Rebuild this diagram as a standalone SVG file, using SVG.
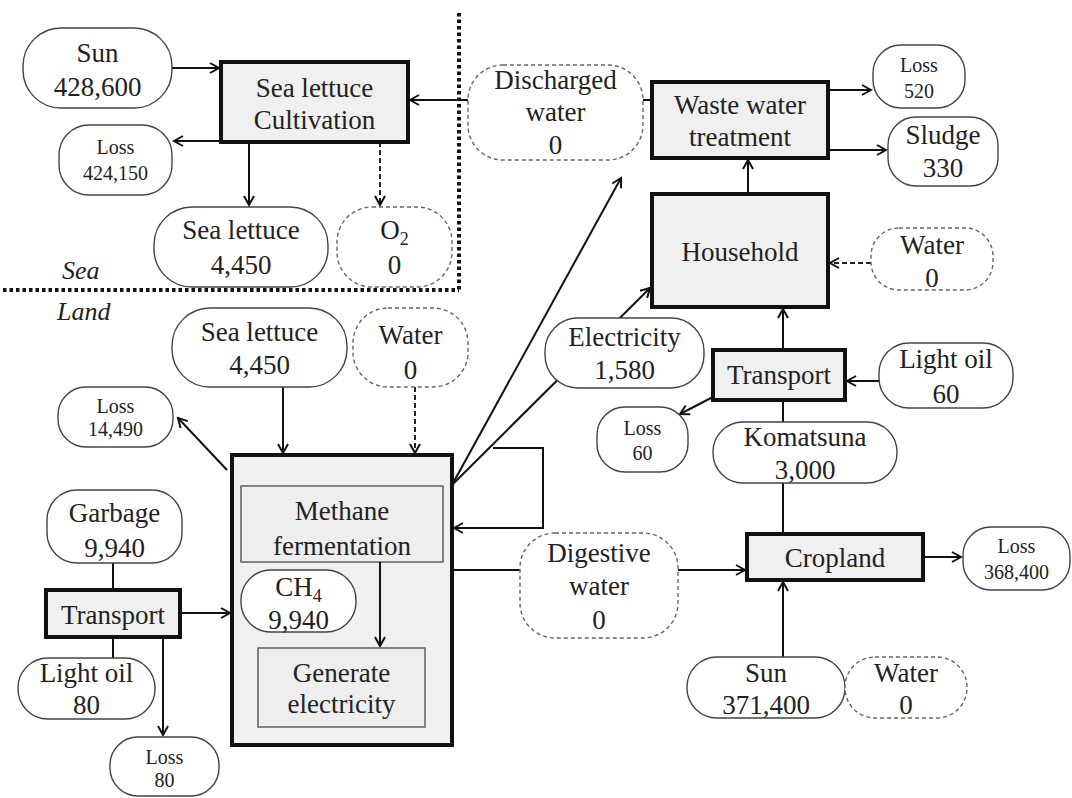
<svg xmlns="http://www.w3.org/2000/svg" width="1072" height="798" viewBox="0 0 1072 798">
<defs>
<marker id="ah" markerWidth="12" markerHeight="12" refX="10" refY="6" orient="auto" markerUnits="userSpaceOnUse">
<path d="M1,1 L10,6 L1,11" fill="none" stroke="#111" stroke-width="2"/>
</marker>
</defs>
<style>
.n{fill:#fff;stroke:#444;stroke-width:1.4}
.d{fill:#fff;stroke:#666;stroke-width:1.4;stroke-dasharray:4 3}
.p{fill:#f0f0f0;stroke:#111;stroke-width:4}
.i{fill:#eeeeee;stroke:#555;stroke-width:1.4}
.t{font-family:"Liberation Serif","Times New Roman",serif;font-size:27px;fill:#222;text-anchor:middle}
.s{font-family:"Liberation Serif","Times New Roman",serif;font-size:20px;fill:#222;text-anchor:middle}
.c{fill:none;stroke:#111;stroke-width:2}
.cd{fill:none;stroke:#222;stroke-width:2;stroke-dasharray:5 3}
.div{fill:none;stroke:#111;stroke-width:4;stroke-dasharray:3.5 3}
.lab{font-family:"Liberation Serif","Times New Roman",serif;font-size:26px;font-style:italic;fill:#222}
</style>
<rect width="1072" height="798" fill="#fff"/>
<g id="dividers">
<line class="div" x1="459" y1="13" x2="459" y2="290"/>
<line class="div" x1="3" y1="290" x2="459" y2="290"/>
<text class="lab" x="62" y="279">Sea</text>
<text class="lab" x="57" y="320">Land</text>
</g>
<g id="connectors">
<line class="c" x1="172" y1="68" x2="219" y2="68" marker-end="url(#ah)"/>
<line class="c" x1="221" y1="141" x2="174" y2="141" marker-end="url(#ah)"/>
<line class="c" x1="249" y1="142" x2="249" y2="205" marker-end="url(#ah)"/>
<line class="cd" x1="380" y1="142" x2="380" y2="205" marker-end="url(#ah)"/>
<line class="c" x1="652" y1="100" x2="643" y2="100"/>
<line class="c" x1="468" y1="100" x2="410" y2="100" marker-end="url(#ah)"/>
<line class="c" x1="828" y1="90" x2="871" y2="90" marker-end="url(#ah)"/>
<line class="c" x1="828" y1="150" x2="886" y2="150" marker-end="url(#ah)"/>
<line class="c" x1="748" y1="194" x2="748" y2="160" marker-end="url(#ah)"/>
<line class="cd" x1="871" y1="263" x2="830" y2="263" marker-end="url(#ah)"/>
<line class="c" x1="452" y1="485" x2="621" y2="178" marker-end="url(#ah)"/>
<line class="c" x1="452" y1="485" x2="650" y2="288" marker-end="url(#ah)"/>
<polyline class="c" points="493,448 543,448 543,528 454,528" marker-end="url(#ah)"/>
<line class="c" x1="783" y1="350" x2="783" y2="309" marker-end="url(#ah)"/>
<line class="c" x1="879" y1="381" x2="847" y2="381" marker-end="url(#ah)"/>
<line class="c" x1="713" y1="397" x2="680" y2="414" marker-end="url(#ah)"/>
<line class="c" x1="783" y1="400" x2="783" y2="422"/>
<line class="c" x1="783" y1="483" x2="783" y2="534"/>
<line class="c" x1="923" y1="557" x2="961" y2="557" marker-end="url(#ah)"/>
<line class="c" x1="452" y1="570" x2="520" y2="570"/>
<line class="c" x1="678" y1="570" x2="745" y2="570" marker-end="url(#ah)"/>
<line class="c" x1="783" y1="657" x2="783" y2="582" marker-end="url(#ah)"/>
<line class="c" x1="283" y1="387" x2="283" y2="453" marker-end="url(#ah)"/>
<line class="cd" x1="415" y1="387" x2="415" y2="453" marker-end="url(#ah)"/>
<line class="c" x1="227" y1="470" x2="178" y2="418" marker-end="url(#ah)"/>
<line class="c" x1="113" y1="563" x2="113" y2="590"/>
<line class="c" x1="113" y1="637" x2="113" y2="658"/>
<line class="c" x1="180" y1="613" x2="230" y2="613" marker-end="url(#ah)"/>
<line class="c" x1="163" y1="637" x2="163" y2="735" marker-end="url(#ah)"/>
</g>
<g id="sun1"><rect class="n" x="23" y="28" width="149" height="80" rx="38"/><text class="t" x="97.5" y="62">Sun</text><text class="t" x="97.5" y="96">428,600</text></g>
<g id="slc"><rect class="p" x="221" y="62" width="187" height="80"/><text class="t" x="314.5" y="97">Sea lettuce</text><text class="t" x="314.5" y="129">Cultivation</text></g>
<g id="loss1"><rect class="n" x="59" y="125" width="113" height="70" rx="30"/><text class="s" x="115.5" y="154">Loss</text><text class="s" x="115.5" y="180">424,150</text></g>
<g id="sl-sea"><rect class="n" x="154" y="207" width="174" height="80" rx="38"/><text class="t" x="241" y="239">Sea lettuce</text><text class="t" x="241" y="274">4,450</text></g>
<g id="o2"><rect class="d" x="337" y="207" width="115" height="80" rx="35"/><text class="t" x="394.5" y="239">O<tspan font-size="18" dy="6">2</tspan></text><text class="t" x="394.5" y="274">0</text></g>
<g id="discharged"><rect class="d" x="468" y="65" width="175" height="95" rx="35"/><text class="t" x="555.5" y="89">Discharged</text><text class="t" x="555.5" y="121">water</text><text class="t" x="555.5" y="154">0</text></g>
<g id="wwt"><rect class="p" x="652" y="82" width="176" height="76"/><text class="t" x="740" y="114">Waste water</text><text class="t" x="740" y="146">treatment</text></g>
<g id="loss520"><rect class="n" x="873" y="45" width="92" height="63" rx="28"/><text class="s" x="919" y="72">Loss</text><text class="s" x="919" y="98">520</text></g>
<g id="sludge"><rect class="n" x="888" y="117" width="110" height="69" rx="28"/><text class="t" x="943" y="144">Sludge</text><text class="t" x="943" y="177">330</text></g>
<g id="household"><rect class="p" x="652" y="194" width="176" height="113"/><text class="t" x="740" y="261">Household</text></g>
<g id="water-h"><rect class="d" x="871" y="228" width="122" height="62" rx="28"/><text class="t" x="932" y="254">Water</text><text class="t" x="932" y="287">0</text></g>
<g id="sl-land"><rect class="n" x="172" y="308" width="175" height="79" rx="38"/><text class="t" x="259.5" y="341">Sea lettuce</text><text class="t" x="259.5" y="374">4,450</text></g>
<g id="water-d"><rect class="d" x="353" y="308" width="115" height="79" rx="35"/><text class="t" x="410.5" y="344">Water</text><text class="t" x="410.5" y="379">0</text></g>
<g id="loss14490"><rect class="n" x="58" y="387" width="115" height="60" rx="28"/><text class="s" x="115.5" y="413">Loss</text><text class="s" x="115.5" y="436">14,490</text></g>
<g id="electricity"><rect class="n" x="545" y="318" width="159" height="70" rx="33"/><text class="t" x="624.5" y="346">Electricity</text><text class="t" x="624.5" y="379">1,580</text></g>
<g id="transport-r"><rect class="p" x="713" y="350" width="132" height="50"/><text class="t" x="779" y="384">Transport</text></g>
<g id="lightoil60"><rect class="n" x="879" y="343" width="134" height="65" rx="30"/><text class="t" x="946" y="368">Light oil</text><text class="t" x="946" y="403">60</text></g>
<g id="loss60"><rect class="n" x="597" y="407" width="91" height="65" rx="28"/><text class="s" x="642.5" y="435">Loss</text><text class="s" x="642.5" y="460">60</text></g>
<g id="komatsuna"><rect class="n" x="713" y="422" width="184" height="61" rx="30"/><text class="t" x="805" y="446">Komatsuna</text><text class="t" x="805" y="479">3,000</text></g>
<g id="cropland"><rect class="p" x="747" y="534" width="176" height="46"/><text class="t" x="835" y="567">Cropland</text></g>
<g id="loss368400"><rect class="n" x="963" y="527" width="107" height="63" rx="28"/><text class="s" x="1016.5" y="553">Loss</text><text class="s" x="1016.5" y="579">368,400</text></g>
<g id="digestive"><rect class="d" x="520" y="533" width="158" height="105" rx="35"/><text class="t" x="599" y="562">Digestive</text><text class="t" x="599" y="595">water</text><text class="t" x="599" y="629">0</text></g>
<g id="sun2"><rect class="n" x="687" y="657" width="158" height="61" rx="30"/><text class="t" x="766" y="682">Sun</text><text class="t" x="766" y="714">371,400</text></g>
<g id="water-c"><rect class="d" x="845" y="657" width="122" height="61" rx="30"/><text class="t" x="906" y="682">Water</text><text class="t" x="906" y="714">0</text></g>
<g id="garbage"><rect class="n" x="47" y="490" width="135" height="73" rx="30"/><text class="t" x="114.5" y="522">Garbage</text><text class="t" x="114.5" y="557">9,940</text></g>
<g id="transport-l"><rect class="p" x="46" y="590" width="134" height="47"/><text class="t" x="113" y="624">Transport</text></g>
<g id="lightoil80"><rect class="n" x="18" y="658" width="137" height="61" rx="30"/><text class="t" x="86.5" y="682">Light oil</text><text class="t" x="86.5" y="714">80</text></g>
<g id="loss80"><rect class="n" x="110" y="737" width="109" height="59" rx="28"/><text class="s" x="164.5" y="764">Loss</text><text class="s" x="164.5" y="787">80</text></g>
<g id="digester">
<rect class="p" x="232" y="455" width="220" height="290"/>
<rect class="i" x="241" y="486" width="202" height="76"/>
<text class="t" x="342" y="520">Methane</text><text class="t" x="342" y="555">fermentation</text>
<line class="c" x1="380" y1="562" x2="380" y2="646" marker-end="url(#ah)"/>
<rect class="n" x="241" y="570" width="115" height="62" rx="30"/>
<text class="t" x="298.5" y="596">CH<tspan font-size="18" dy="6">4</tspan></text><text class="t" x="298.5" y="629">9,940</text>
<rect class="i" x="258" y="648" width="167" height="79"/>
<text class="t" x="341.5" y="682">Generate</text><text class="t" x="341.5" y="713">electricity</text>
</g>
</svg>
